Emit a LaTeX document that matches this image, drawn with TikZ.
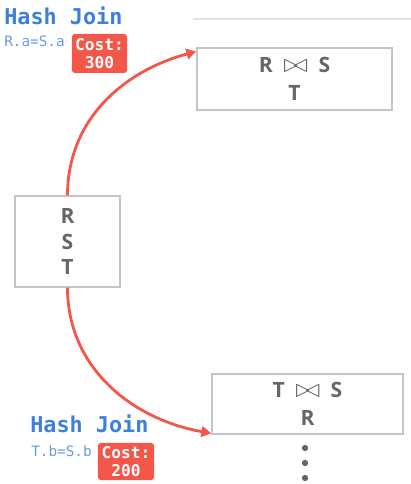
\documentclass[tikz,border=0pt]{standalone}
\usepackage{fontspec}
\usetikzlibrary{arrows.meta}
\newfontfamily\boxfont{Open Sans}
\newfontfamily\codefont{DejaVu Sans Mono}
\definecolor{joinblue}{HTML}{3D7FD9}
\definecolor{predblue}{HTML}{6B9BE0}
\definecolor{costred}{HTML}{F4574A}
\definecolor{boxgray}{HTML}{C4C4C4}
\definecolor{textgray}{HTML}{666666}
\definecolor{rulegray}{HTML}{E2E2E2}
\newcommand{\joinsym}{\scalebox{1.5}[1.3]{$\bowtie$}}
\begin{document}
\begin{tikzpicture}[x=0.025cm,y=0.025cm,
  relbox/.style={draw=boxgray,line width=1pt,text=textgray,align=center,inner sep=0pt},
  costtag/.style={fill=costred,rounded corners=2pt,text=white,align=center,inner sep=0pt,
    font=\codefont\bfseries\fontsize{11.5}{13}\selectfont},
  joinname/.style={anchor=base west,text=joinblue,inner sep=0pt,
    font=\codefont\bfseries\fontsize{15.5}{18}\selectfont},
  joinpred/.style={anchor=base west,text=predblue,inner sep=0pt,
    font=\codefont\fontsize{10.2}{12}\selectfont},
  plan/.style={draw=costred,line width=2pt,-{Triangle[length=7pt,width=7.5pt]}},
  dotmark/.style={circle,fill=textgray,inner sep=0pt,minimum size=4.5pt}]
\useasboundingbox (0,0) rectangle (411,484);
\draw[rulegray,line width=0.8pt] (193,465) -- (411,465);
% relations
\node[relbox,minimum width=4.875cm,minimum height=1.55cm,
  font=\boxfont\bfseries\fontsize{15}{20}\selectfont] (top) at (294.5,405)
  {R\enspace\joinsym\enspace S\\T};
\node[relbox,minimum width=2.625cm,minimum height=2.275cm,
  font=\boxfont\bfseries\fontsize{15}{17.8}\selectfont] (mid) at (67.5,242.5)
  {R\\S\\T};
\node[relbox,minimum width=4.775cm,minimum height=1.5cm,
  font=\boxfont\bfseries\fontsize{15}{20}\selectfont] (bot) at (307.5,80)
  {T\enspace\joinsym\enspace S\\R};
\foreach \i in {1,2,3}
  \node[dotmark] (d\i) at (305,51-15*\i) {};
%
\node[joinname] (hj1) at (4,459) {Hash Join};
\node[joinpred] (p1) at (4,437) {R.a=S.a};
\node[costtag,minimum width=1.375cm,minimum height=0.975cm] (c1) at (99.5,430.5) {Cost:\\300};
\node[joinname] (hj2) at (30,51) {Hash Join};
\node[joinpred] (p2) at (31,27) {T.b=S.b};
\node[costtag,minimum width=1.4cm,minimum height=0.925cm] (c2) at (126,22.5) {Cost:\\200};
%
\draw[plan] (mid.north) to[out=90,in=195] ([yshift=-3pt]top.north west);
\draw[plan] (mid.south) to[out=-90,in=170] ([yshift=1pt]bot.south west);
\end{tikzpicture}
\end{document}
